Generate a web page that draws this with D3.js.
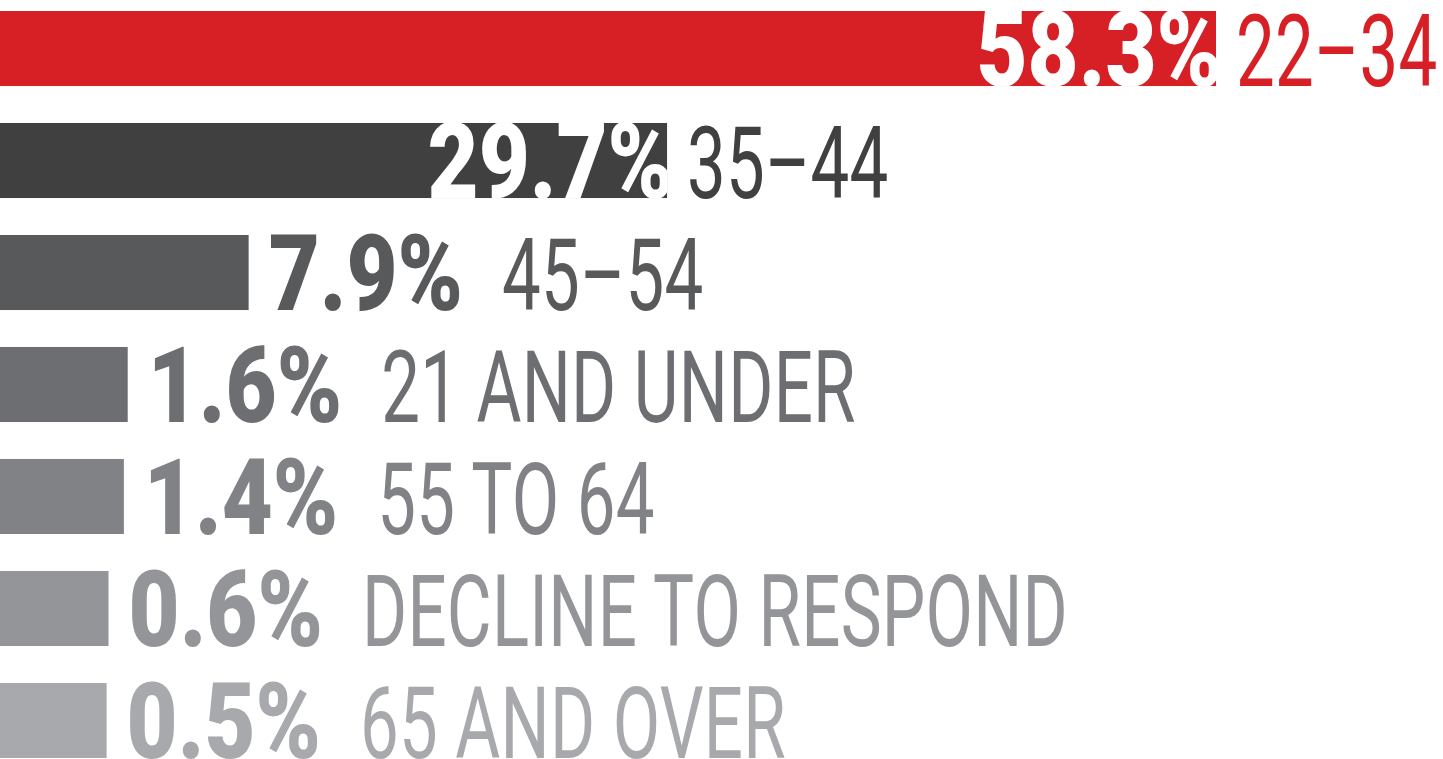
<!DOCTYPE html>
<html>
<head>
<meta charset="utf-8">
<script src="https://cdn.jsdelivr.net/npm/d3@7"></script>
<style>
  html, body { margin: 0; padding: 0; background: #ffffff; }
  svg { display: block; }
</style>
</head>
<body>
<svg id="chart" width="1443" height="759"></svg>
<script>
// ---- data ----
const categories = ["22–34", "35–44", "45–54", "21 AND UNDER", "55 TO 64", "DECLINE TO RESPOND", "65 AND OVER"];
const values = [58.3, 29.7, 7.9, 1.6, 1.4, 0.6, 0.5];
const valueLabels = ["58.3%", "29.7%", "7.9%", "1.6%", "1.4%", "0.6%", "0.5%"];
const colors = ["#d71f26", "#404041", "#58595b", "#6d6e71", "#808285", "#939598", "#a7a9ac"];

const W = 1443, H = 759;
const svg = d3.select("#chart");
const defs = svg.append("defs");

const x = d3.scaleLinear().domain([0, 58.3]).range([97, 1216]);
const y = d3.scaleBand().domain(categories).range([11, 758]).paddingInner(0.33).paddingOuter(0);

const valueFont = { family: "Roboto, 'DejaVu Sans', sans-serif", size: 105, weight: 900, sx: 0.84 };
const catFont = { family: "Roboto, 'DejaVu Sans', sans-serif", size: 100, weight: 400, sx: 0.69, spacing: 0.3 };

const rows = categories.map((c, i) => ({ cat: c, v: values[i], label: valueLabels[i], color: colors[i], i }));

const g = svg.selectAll("g.row").data(rows).join("g").attr("class", "row");

g.append("rect")
  .attr("x", 0)
  .attr("y", d => y(d.cat))
  .attr("width", d => x(d.v))
  .attr("height", y.bandwidth())
  .attr("fill", d => d.color);

g.each(function(d) {
  const row = d3.select(this);
  const base = y(d.cat) + y.bandwidth();
  const end = x(d.v);
  const inside = d.v > 20;

  // value label
  let holder = row;
  if (inside) {
    // white label sits at the bar's end, clipped to the bar
    const id = "clip" + d.i;
    defs.append("clipPath").attr("id", id)
      .append("rect")
      .attr("x", 0).attr("y", y(d.cat))
      .attr("width", end).attr("height", y.bandwidth());
    holder = row.append("g").attr("clip-path", `url(#${id})`);
  }
  const vg = holder.append("g");
  const vt = vg.append("text")
    .text(d.label)
    .attr("font-family", valueFont.family)
    .attr("font-size", valueFont.size)
    .attr("font-weight", valueFont.weight)
    .attr("fill", inside ? "#ffffff" : d.color)
    .attr("text-anchor", inside ? "end" : "start");
  const vw = vt.node().getComputedTextLength() * valueFont.sx;
  let catX;
  if (inside) {
    vg.attr("transform", `translate(${end + 6},${base}) scale(${valueFont.sx},1)`);
    catX = end + 20;
  } else {
    const vx = end + 20;
    vg.attr("transform", `translate(${vx},${base}) scale(${valueFont.sx},1)`);
    catX = vx + vw + 39;
  }

  // category label
  row.append("g")
    .attr("transform", `translate(${catX},${base}) scale(${catFont.sx},1)`)
    .append("text")
    .text(d.cat)
    .attr("font-family", catFont.family)
    .attr("font-size", catFont.size)
    .attr("font-weight", catFont.weight)
    .attr("letter-spacing", catFont.spacing)
    .attr("fill", d.color);
});
</script>
</body>
</html>
